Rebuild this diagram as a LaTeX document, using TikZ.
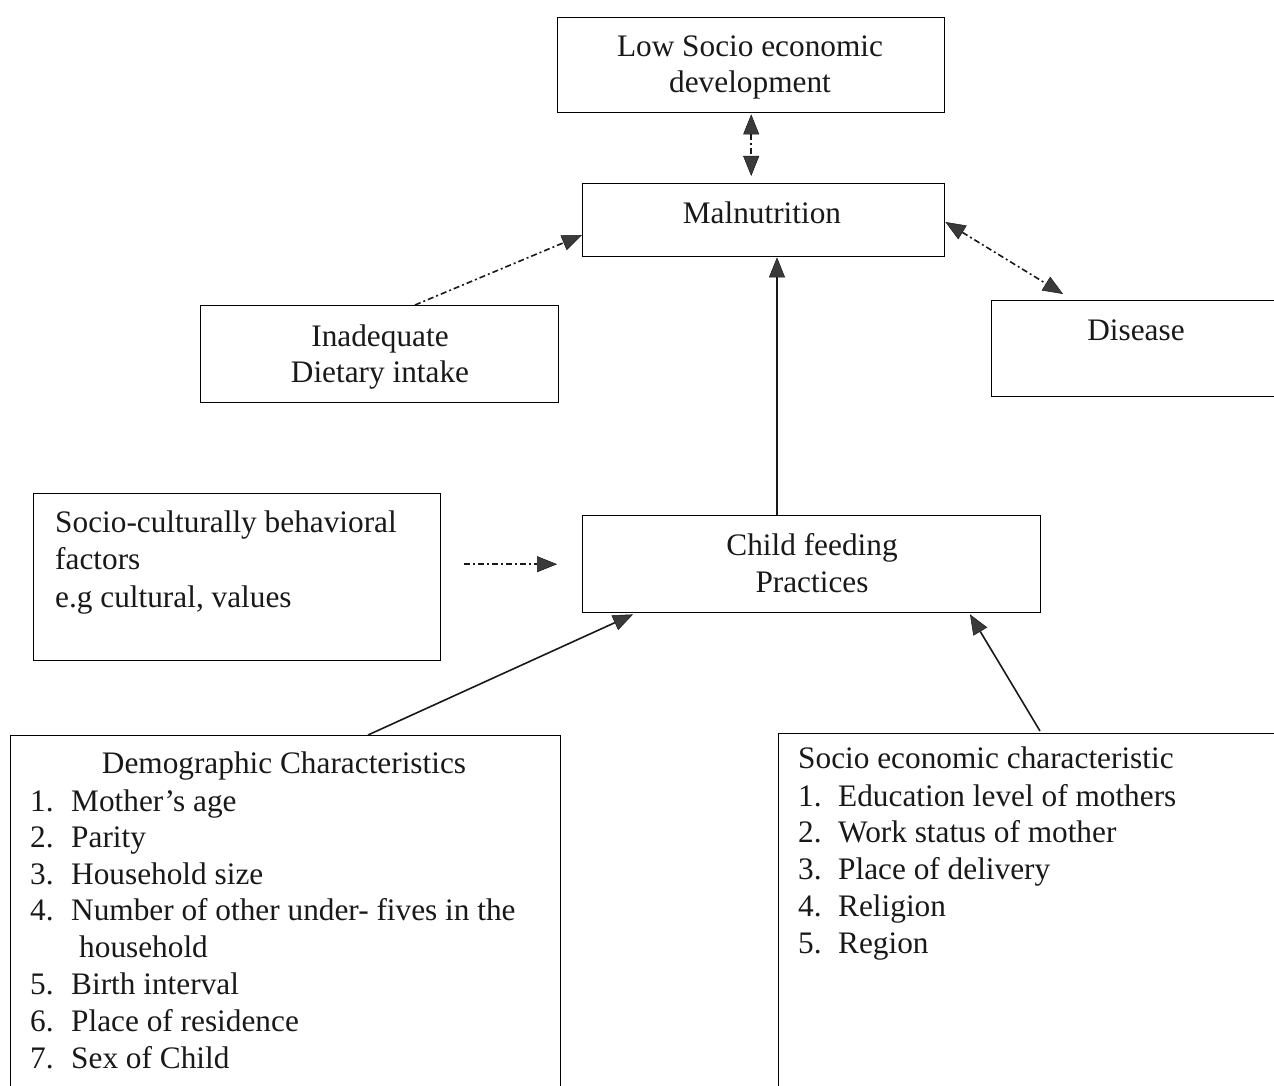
\documentclass[tikz,border=0pt]{standalone}
\usepackage{fontspec}
\setmainfont{Liberation Serif}
\usetikzlibrary{arrows.meta,calc}
\definecolor{tipgray}{HTML}{3A3A3A}
\begin{document}
\begin{tikzpicture}[x=1pt,y=-1pt,
  box/.style={draw,line width=1.4pt,anchor=north west,inner sep=0pt},
  txt/.style={inner sep=0pt,font=\fontsize{31.3}{37}\selectfont,text=black!90},
  solidarrow/.style={line width=1.6pt,draw=black!90,-{Triangle[length=20pt,width=16pt,fill=tipgray,line width=0.5pt]}},
  dasharrow/.style={line width=1.6pt,draw=black!90,dash pattern=on 6pt off 3pt on 2pt off 3pt,-{Triangle[length=20pt,width=16pt,fill=tipgray,line width=0.5pt]}},
  dualarrow/.style={line width=1.6pt,draw=black!90,dash pattern=on 6pt off 3pt on 2pt off 3pt,{Triangle[length=20pt,width=16pt,fill=tipgray,line width=0.5pt]}-{Triangle[length=20pt,width=16pt,fill=tipgray,line width=0.5pt]}}
]
\useasboundingbox (0,0) rectangle (1274,1086);
\clip (0,0) rectangle (1274,1086);
\fill[white] (0,0) rectangle (1274,1086);

% boxes
\node[box,minimum width=387pt,minimum height=95pt] (top) at (557,17) {};
\node[box,minimum width=362pt,minimum height=73pt] (mal) at (582,183) {};
\node[box,minimum width=358pt,minimum height=97pt] (inad) at (200,305) {};
\node[box,minimum width=320pt,minimum height=96pt] (dis) at (991,300) {};
\node[box,minimum width=407pt,minimum height=167pt] (soc) at (33,493) {};
\node[box,minimum width=458pt,minimum height=97pt] (cf) at (582,515) {};
\node[box,minimum width=550pt,minimum height=400pt] (dem) at (10,735) {};
\node[box,minimum width=530pt,minimum height=400pt] (sec) at (778,733) {};

% texts
\node[txt,anchor=base] (t1a) at (750,57) {Low Socio economic};
\node[txt,anchor=base] (t1b) at (750,93) {development};
\node[txt,anchor=base] (t2) at (762,223) {Malnutrition};
\node[txt,anchor=base] (t3a) at (380,346) {Inadequate};
\node[txt,anchor=base] (t3b) at (380,382) {Dietary intake};
\node[txt,anchor=base] (t4) at (1136,340) {Disease};
\node[txt,anchor=base west] (t5a) at (55,532) {Socio-culturally behavioral};
\node[txt,anchor=base west] (t5b) at (55,569) {factors};
\node[txt,anchor=base west] (t5c) at (55,607) {e.g cultural, values};
\node[txt,anchor=base] (t6a) at (812,555) {Child feeding};
\node[txt,anchor=base] (t6b) at (812,592) {Practices};

\node[txt,anchor=base] (t7) at (284,773) {Demographic Characteristics};
\foreach \n/\y/\s in {1/811/{Mother’s age},2/847/{Parity},3/884/{Household size},
  4/920/{Number of other under- fives in the},5/994/{Birth interval},
  6/1031/{Place of residence},7/1068/{Sex of Child}}{
  \node[txt,anchor=base west] (dn\n) at (30,\y) {\n.};
  \node[txt,anchor=base west] (dt\n) at (71,\y) {\s};
}
\node[txt,anchor=base west] (dt4b) at (79,957) {household};

\node[txt,anchor=base west] (t8) at (798,768) {Socio economic characteristic};
\foreach \n/\y/\s in {1/806/{Education level of mothers},2/842/{Work status of mother},
  3/879/{Place of delivery},4/916/{Religion},5/953/{Region}}{
  \node[txt,anchor=base west] (sn\n) at (798,\y) {\n.};
  \node[txt,anchor=base west] (st\n) at (838,\y) {\s};
}

% connectors
\draw[dualarrow] ([yshift=-1pt]top.south) -- ([yshift=7pt]top.south |- mal.north);
\draw[dasharrow] ([xshift=215pt]inad.north west) -- ([yshift=-52pt]mal.north west);
\draw[dualarrow] ([yshift=-39pt]mal.north east) -- ([xshift=72pt,yshift=6pt]dis.north west);
\draw[solidarrow] ([xshift=195pt]cf.north west) -- ([xshift=195pt]cf.north west |- mal.south);
\draw[dasharrow] ([xshift=23pt,yshift=13pt]soc.east) -- ([xshift=-25pt]cf.west);
\draw[solidarrow] ([xshift=358pt]dem.north west) -- ([xshift=51pt,yshift=-1pt]cf.south west);
\draw[solidarrow] ([xshift=262pt,yshift=2pt]sec.north west) -- ([xshift=388pt,yshift=-1pt]cf.south west);
\end{tikzpicture}
\end{document}
